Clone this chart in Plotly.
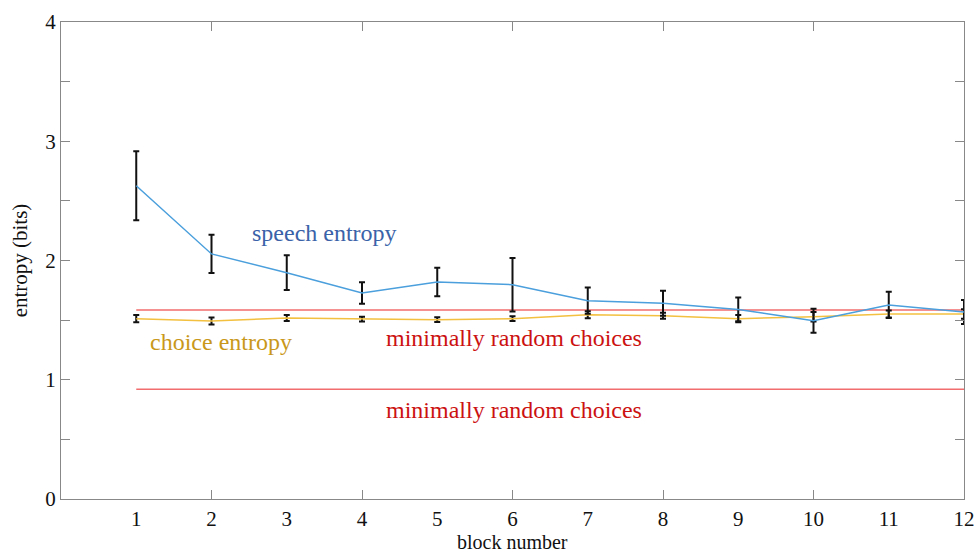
import plotly.graph_objects as go

blocks = list(range(1, 13))
speech_entropy = [2.627, 2.055, 1.898, 1.727, 1.82, 1.797, 1.663, 1.641, 1.59, 1.495, 1.627, 1.568]
speech_err = [0.29, 0.16, 0.145, 0.09, 0.12, 0.225, 0.11, 0.105, 0.10, 0.10, 0.11, 0.10]
choice_entropy = [1.512, 1.493, 1.518, 1.509, 1.504, 1.512, 1.545, 1.537, 1.512, 1.529, 1.551, 1.551]
choice_err = [0.03, 0.03, 0.025, 0.02, 0.02, 0.02, 0.03, 0.025, 0.03, 0.04, 0.03, 0.04]
random_upper = 1.585
random_lower = 0.92
x_ticks = [1, 2, 3, 4, 5, 6, 7, 8, 9, 10, 11, 12]
y_ticks = [0, 1, 2, 3, 4]

FONT = "Liberation Serif"
fig = go.Figure()

for lvl in (random_upper, random_lower):
    fig.add_trace(go.Scatter(x=[blocks[0], blocks[-1]], y=[lvl, lvl], mode="lines",
                             line=dict(color="#f26d6d", width=1.5), showlegend=False, hoverinfo="skip"))

fig.add_trace(go.Scatter(x=blocks, y=choice_entropy, mode="lines",
                         line=dict(color="#f3c03f", width=1.5),
                         error_y=dict(type="data", array=choice_err, color="#111111", thickness=2, width=3),
                         showlegend=False))
fig.add_trace(go.Scatter(x=blocks, y=speech_entropy, mode="lines",
                         line=dict(color="#4a9fdc", width=1.5),
                         error_y=dict(type="data", array=speech_err, color="#111111", thickness=2, width=3),
                         showlegend=False))

anns = [
    dict(x=3.5, y=2.23, text="speech entropy", color="#3a62a8"),
    dict(x=2.12, y=1.32, text="choice entropy", color="#c9981a"),
    dict(x=6.02, y=1.35, text="minimally random choices", color="#cc1111"),
    dict(x=6.02, y=0.75, text="minimally random choices", color="#cc1111"),
]
for a in anns:
    fig.add_annotation(x=a["x"], y=a["y"], text=a["text"], showarrow=False,
                       font=dict(family=FONT, size=24, color=a["color"]), xanchor="center", yanchor="middle")

# x-axis title placed as paper annotation below tick labels
fig.add_annotation(x=0.5, y=-0.091, xref="paper", yref="paper", text="block number", showarrow=False,
                   font=dict(family=FONT, size=20, color="#111111"), xanchor="center", yanchor="middle")

axis_common = dict(showgrid=False, zeroline=False, showline=True, linecolor="#888888", linewidth=1.2,
                   mirror="allticks", automargin=False,
                   tickfont=dict(family=FONT, size=21, color="#111111"))

fig.update_xaxes(range=[0, 12], tickmode="array", tickvals=x_ticks, ticks="", ticklabelstandoff=1,
                 minor=dict(tickmode="array", tickvals=[2, 4, 6, 8, 10], ticks="inside", ticklen=9,
                            tickcolor="#888888", tickwidth=1, showgrid=False),
                 **axis_common)
fig.update_yaxes(range=[0, 4], tickmode="array", tickvals=y_ticks, ticks="inside", ticklen=9,
                 tickcolor="#888888", tickwidth=1,
                 minor=dict(tickmode="array", tickvals=[0.5, 1.5, 2.5, 3.5], ticks="inside", ticklen=9,
                            tickcolor="#888888", tickwidth=1, showgrid=False),
                 title=dict(text="entropy (bits)", font=dict(family=FONT, size=21, color="#111111"), standoff=11),
                 **axis_common)

fig.update_layout(width=978, height=553, margin=dict(l=61, r=14, t=22, b=54),
                  font=dict(family=FONT),
                  plot_bgcolor="white", paper_bgcolor="white", showlegend=False)

fig.write_html("out.html", config={"displayModeBar": False},
               post_script="document.body.style.margin='0';document.body.style.overflow='hidden';")
